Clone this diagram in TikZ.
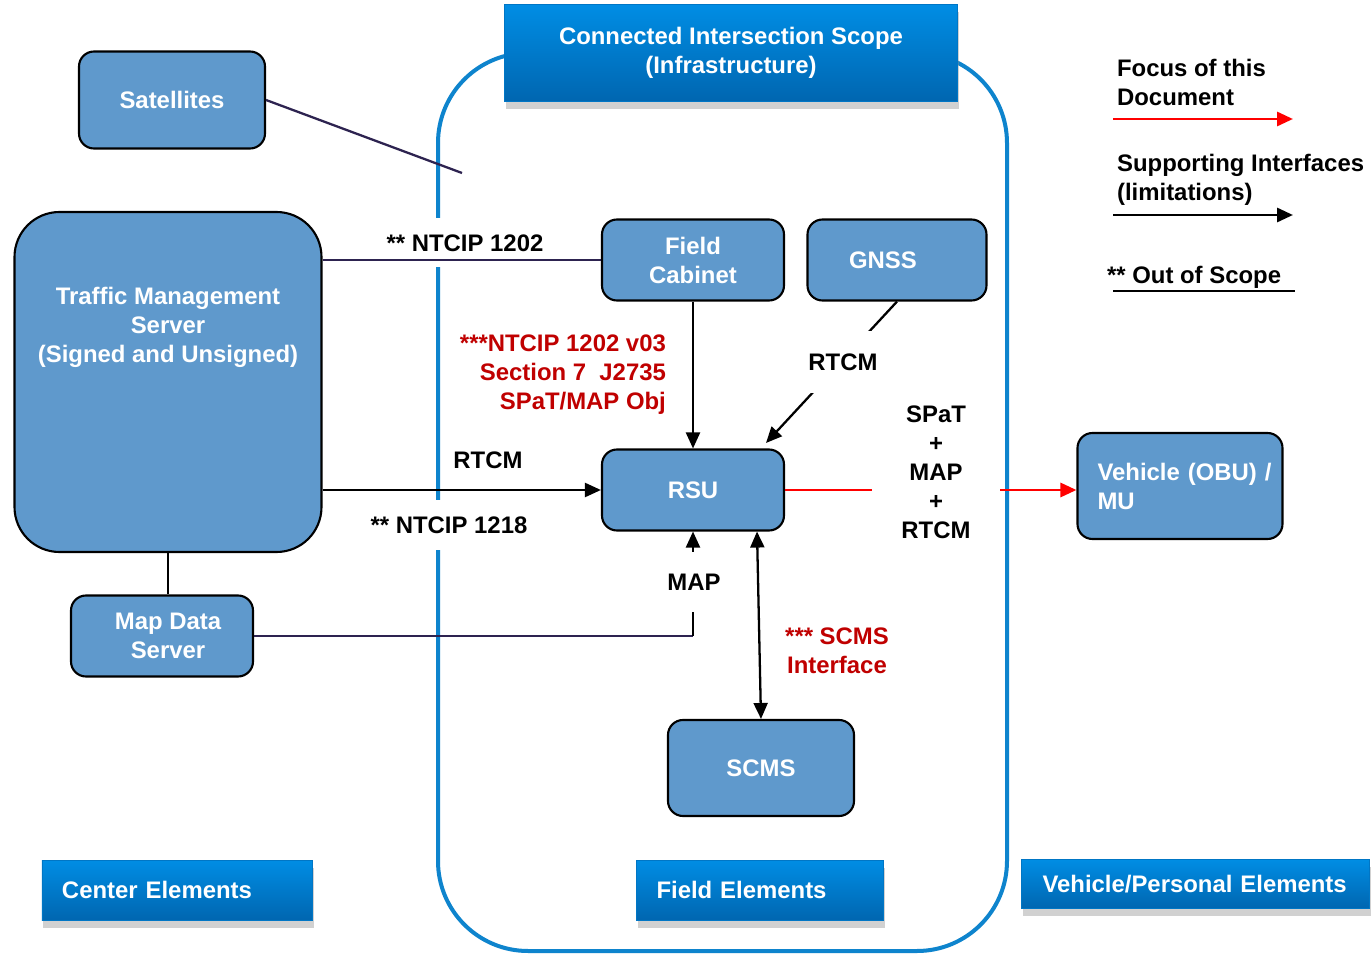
\documentclass[tikz,border=0pt]{standalone}
\usepackage{fontspec}
\setmainfont{Liberation Sans}
\usetikzlibrary{arrows.meta, shadows}
\definecolor{boxblue}{RGB}{95,153,204}
\definecolor{scopeblue}{RGB}{14,132,205}
\definecolor{bannertop}{RGB}{0,141,228}
\definecolor{bannerbot}{RGB}{0,102,176}
\definecolor{linkpurple}{RGB}{45,35,80}
\definecolor{notered}{RGB}{192,0,0}
\begin{document}
\begin{tikzpicture}[
  x=0.2mm, y=-0.2mm,
  box/.style={draw=black, line width=1.2pt, fill=boxblue, rounded corners=0.3cm, text=white, align=center,
    minimum width=3.64cm, minimum height=1.62cm, inner sep=2pt, font=\fontsize{13.6}{16.5}\selectfont\bfseries},
  banner/.style={draw=bannerbot!60!bannertop, line width=0.4pt, top color=bannertop, bottom color=bannerbot,
    text=white, font=\fontsize{13.6}{16.5}\selectfont\bfseries,
    drop shadow={shadow xshift=0.3mm, shadow yshift=-1.5mm, opacity=0.4, fill=black!45}},
  note/.style={font=\fontsize{13.6}{16.5}\selectfont\bfseries, align=center, inner sep=1pt},
  cover/.style={note, fill=white},
  link/.style={line width=1.3pt, draw=black},
  arrowed/.style={link, -{Triangle[length=0.32cm, width=0.28cm]}},
]
  \path[fill=white, use as bounding box] (0,0) rectangle (1371,954);

  % Scope outline and title
  \draw[scopeblue, line width=0.08cm, rounded corners=1.8cm] (438,53) rectangle (1007,951);
  \node[banner, minimum width=9.06cm, minimum height=1.94cm, align=center] (scopebanner) at (731,53)
    {Connected Intersection Scope\\(Infrastructure)};

  % Element boxes
  \node[box, minimum width=3.72cm, minimum height=1.94cm] (sat) at (172,100) {Satellites};
  \node[box, minimum width=6.14cm, minimum height=6.8cm, rounded corners=0.9cm] (tms) at (168,382) {};
  \node[note, text=white] (tmstext) at (168,327) {Traffic Management\\Server\\(Signed and Unsigned)};
  \node[box] (mds) at (162,636) {\hspace{0.24cm}Map Data\\\hspace{0.24cm}Server};
  \node[box] (fc) at (693,260) {Field\\Cabinet};
  \node[box, minimum width=3.58cm] (gnss) at (897,260) {GNSS\hspace{0.56cm}};
  \node[box] (rsu) at (693,490) {RSU};
  \node[box, minimum width=3.72cm, minimum height=1.92cm] (scms) at (761,768) {SCMS};
  \node[box, minimum width=4.1cm, minimum height=2.12cm, text width=3.8cm, align=left, inner xsep=0.15cm] (veh)
    at (1180,486) {\hspace{0.25cm}Vehicle (OBU) /\\\hspace{0.25cm}MU};

  % Bottom banners
  \node[banner, minimum height=1.2cm, text width=4.6cm, align=left, inner xsep=0.4cm] (center) at (177,890) {Center Elements};
  \node[banner, minimum height=1.2cm, text width=4.14cm, align=left, inner xsep=0.4cm] (field) at (760,890) {Field Elements};
  \node[banner, minimum height=0.98cm, text width=6.5cm, align=left, inner xsep=0.23cm] (vehp) at (1195,884)
    {\hspace{0.2cm}Vehicle/Personal Elements};

  % Labels over the scope line
  \node[cover, minimum height=0.98cm] (ntcipA) at (465,243) {** NTCIP 1202};
  \node[cover, minimum height=1.22cm] (rtcmA) at (488,460) {RTCM};
  \node[cover, minimum height=1.0cm] (ntcipB) at (449,525) {** NTCIP 1218};
  \node[note, text=notered, align=right, anchor=east] (ntcipC) at (668,375)
    {***NTCIP 1202 v03\\Section 7\ \ J2735\\SPaT/MAP Obj};
  \node[note, text=notered] (scmsnote) at (837,651) {*** SCMS\\Interface};

  % Connectors
  \coordinate (satend) at (462,173);
  \coordinate (gnssin) at (766,443);
  \draw[link, linkpurple] (sat.east) -- (satend);
  \draw[link, linkpurple] (tms.east |- fc.west) -- (fc.west);
  \draw[arrowed] (tms.east |- rsu.west) -- (rsu.west);
  \draw[link] (tms.south) -- (tms.south |- mds.north);
  \draw[link, linkpurple] (mds.east) -- (mds.east -| rsu.south);
  \draw[arrowed] (mds.east -| rsu.south) -- (rsu.south);
  \draw[arrowed] (fc.south) -- (rsu.north);
  \draw[arrowed] (gnss.south) -- (gnssin);
  \draw[arrowed, {Triangle[length=0.32cm, width=0.28cm]}-{Triangle[length=0.32cm, width=0.28cm]}]
    ([xshift=1.28cm]rsu.south) -- (scms.north);
  \draw[arrowed, red, line width=1.7pt] (rsu.east) -- (rsu.east -| veh.west);

  % Labels over connectors
  \node[cover, minimum height=1.2cm] (maplbl) at (694,582) {MAP};
  \node[cover, minimum height=1.24cm] (rtcmB) at (843,362) {RTCM};
  \node[cover, minimum width=2.56cm] (spat) at (936,472) {SPaT\\+\\MAP\\+\\RTCM};

  % Legend
  \node[note, align=left, anchor=west] (focus) at (1115,82) {Focus of this\\Document};
  \coordinate (focusA) at (1113,119);
  \coordinate (focusB) at (1293,119);
  \draw[arrowed, red, line width=1.7pt] (focusA) -- (focusB);
  \node[note, align=left, anchor=west] (support) at (1115,180) {Supporting Interfaces\\(limitations)};
  \coordinate (supA) at (1113,215);
  \coordinate (supB) at (1293,215);
  \draw[arrowed, line width=1.7pt] (supA) -- (supB);
  \node[note, anchor=west] (outscope) at (1105,277) {** Out of Scope};
  \coordinate (outA) at (1113,291);
  \coordinate (outB) at (1295,291);
  \draw[link] (outA) -- (outB);
\end{tikzpicture}
\end{document}
